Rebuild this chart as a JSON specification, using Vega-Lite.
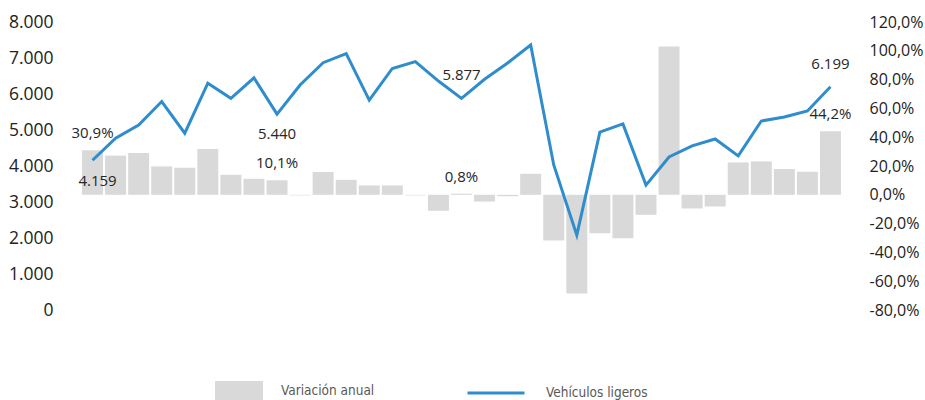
{
  "$schema": "https://vega.github.io/schema/vega-lite/v6.json",
  "autosize": {"type": "none"},
  "width": 761,
  "height": 288,
  "padding": {"left": 81, "top": 22, "right": 83, "bottom": 90},
  "config": {
    "view": {"stroke": null},
    "locale": {"number": {"decimal": ",", "thousands": ".", "grouping": [3], "currency": ["", " €"], "minus": "-"}},
    "axis": {"labelFont": "Open Sans", "labelFontSize": 17.5, "labelColor": "#222222", "domain": false, "ticks": false, "grid": false, "title": null}
  },
  "data": {"values": [
    {"i": 1, "veh": 4159, "pct": 0.309},
    {"i": 2, "veh": 4770, "pct": 0.272},
    {"i": 3, "veh": 5140, "pct": 0.291},
    {"i": 4, "veh": 5790, "pct": 0.197},
    {"i": 5, "veh": 4910, "pct": 0.188},
    {"i": 6, "veh": 6300, "pct": 0.318},
    {"i": 7, "veh": 5880, "pct": 0.139},
    {"i": 8, "veh": 6450, "pct": 0.111},
    {"i": 9, "veh": 5440, "pct": 0.101},
    {"i": 10, "veh": 6250, "pct": -0.004},
    {"i": 11, "veh": 6870, "pct": 0.158},
    {"i": 12, "veh": 7120, "pct": 0.104},
    {"i": 13, "veh": 5830, "pct": 0.065},
    {"i": 14, "veh": 6710, "pct": 0.065},
    {"i": 15, "veh": 6900, "pct": -0.004},
    {"i": 16, "veh": 6360, "pct": -0.111},
    {"i": 17, "veh": 5877, "pct": 0.008},
    {"i": 18, "veh": 6410, "pct": -0.047},
    {"i": 19, "veh": 6860, "pct": -0.010},
    {"i": 20, "veh": 7360, "pct": 0.146},
    {"i": 21, "veh": 4030, "pct": -0.318},
    {"i": 22, "veh": 2080, "pct": -0.685},
    {"i": 23, "veh": 4940, "pct": -0.267},
    {"i": 24, "veh": 5170, "pct": -0.302},
    {"i": 25, "veh": 3470, "pct": -0.139},
    {"i": 26, "veh": 4250, "pct": 1.03},
    {"i": 27, "veh": 4560, "pct": -0.095},
    {"i": 28, "veh": 4750, "pct": -0.081},
    {"i": 29, "veh": 4280, "pct": 0.225},
    {"i": 30, "veh": 5250, "pct": 0.232},
    {"i": 31, "veh": 5360, "pct": 0.179},
    {"i": 32, "veh": 5530, "pct": 0.160},
    {"i": 33, "veh": 6199, "pct": 0.442}
  ]},
  "encoding": {
    "x": {"field": "i", "type": "ordinal", "axis": null, "scale": {"paddingInner": 0.09, "paddingOuter": 0.045}}
  },
  "layer": [
    {
      "encoding": {
        "y": {"field": "pct", "type": "quantitative", "scale": {"domain": [-0.8, 1.2], "nice": false, "zero": true},
              "axis": {"orient": "right", "format": ".1%", "values": [-0.8, -0.6, -0.4, -0.2, 0, 0.2, 0.4, 0.6, 0.8, 1.0, 1.2], "labelPadding": 27, "labelAlign": "left", "labelFontSize": 16}}
      },
      "layer": [
        {
          "mark": {"type": "bar"},
          "encoding": {
            "fill": {"datum": "Variación anual", "type": "nominal", "scale": {"range": ["#d9d9d9"]},
                     "legend": {"orient": "none", "legendX": 134, "legendY": 345, "title": null, "padding": 0,
                                "symbolType": "M-1,-0.4167H1V0.4167H-1Z", "symbolSize": 2304, "symbolStrokeWidth": 0,
                                "labelOffset": 18, "labelFont": "Liberation Sans Narrow, DejaVu Sans Condensed", "labelFontSize": 13.5, "labelColor": "#595959"}}
          }
        },
        {
          "transform": [{"filter": "indexof([1, 9, 17, 33], datum.i) >= 0"}],
          "mark": {"type": "text", "font": "Open Sans", "fontSize": 15, "color": "#262626", "dy": -17, "baseline": "middle"},
          "encoding": {
            "text": {"field": "pct", "type": "quantitative", "format": ".1%"}
          }
        }
      ]
    },
    {
      "encoding": {
        "y": {"field": "veh", "type": "quantitative", "scale": {"domain": [0, 8000], "nice": false},
              "axis": {"orient": "left", "format": ",d", "values": [0, 1000, 2000, 3000, 4000, 5000, 6000, 7000, 8000], "labelPadding": 28}}
      },
      "layer": [
        {
          "mark": {"type": "line", "strokeWidth": 3},
          "encoding": {
            "stroke": {"datum": "Vehículos ligeros", "type": "nominal", "scale": {"range": ["#2f8dcd"]},
                       "legend": {"orient": "none", "legendX": 385, "legendY": 341, "title": null, "padding": 0,
                                  "symbolType": "stroke", "symbolSize": 3249, "symbolStrokeWidth": 3,
                                  "labelOffset": 20, "labelFont": "Liberation Sans Narrow, DejaVu Sans Condensed", "labelFontSize": 13.5, "labelColor": "#595959"}}
          }
        },
        {
          "transform": [{"filter": "datum.i == 1"}],
          "mark": {"type": "text", "font": "Open Sans", "fontSize": 15, "color": "#262626", "dx": 5, "dy": 21, "baseline": "middle"},
          "encoding": {
            "text": {"field": "veh", "type": "quantitative", "format": ",d"}
          }
        },
        {
          "transform": [{"filter": "datum.i == 9"}],
          "mark": {"type": "text", "font": "Open Sans", "fontSize": 15, "color": "#262626", "dy": 20, "baseline": "middle"},
          "encoding": {
            "text": {"field": "veh", "type": "quantitative", "format": ",d"}
          }
        },
        {
          "transform": [{"filter": "datum.i == 17 || datum.i == 33"}],
          "mark": {"type": "text", "font": "Open Sans", "fontSize": 15, "color": "#262626", "dy": -23, "baseline": "middle"},
          "encoding": {
            "text": {"field": "veh", "type": "quantitative", "format": ",d"}
          }
        }
      ]
    }
  ],
  "resolve": {"scale": {"y": "independent", "fill": "independent", "stroke": "independent"}}
}
